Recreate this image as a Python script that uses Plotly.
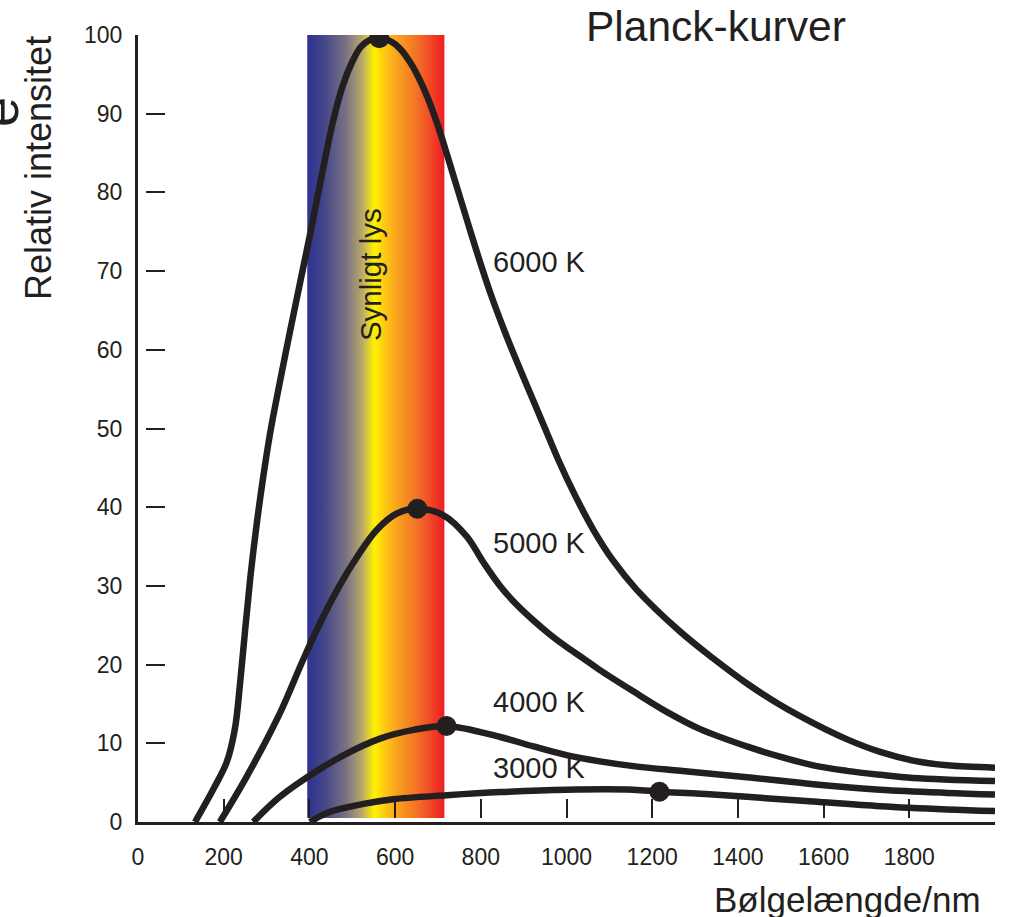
import plotly.graph_objects as go

# ---------------- data ----------------
wl_6000 = [133, 175, 207, 226, 238, 250, 262, 275, 290, 308, 330, 355, 380, 405, 430, 455,
           478, 500, 520, 542, 563, 590, 611, 639, 674, 701, 724, 748, 771, 798, 825, 856,
           888, 919, 950, 981, 1020, 1063, 1109, 1164, 1265, 1342, 1421, 1498, 1575, 1655,
           1732, 1809, 1888, 2000]
I_6000 = [0, 4.1, 7.6, 11.8, 17.5, 24.4, 31.0, 37.0, 43.0, 49.3, 55.6, 62.4, 69.0, 75.6,
          82.5, 89.0, 93.6, 96.6, 98.5, 99.4, 99.6, 99.2, 98.3, 96.2, 92.3, 88.3, 84.3,
          80.0, 75.9, 71.2, 66.8, 62.3, 58.0, 54.0, 50.0, 46.0, 41.5, 37.1, 33.2, 29.5,
          24.2, 20.8, 17.6, 14.9, 12.6, 10.5, 8.9, 7.8, 7.2, 6.9]

wl_5000 = [191, 254, 331, 382, 417, 456, 502, 557, 604, 652, 712, 767, 806, 845, 884, 923,
           962, 1000, 1039, 1078, 1156, 1234, 1312, 1421, 1498, 1576, 1654, 1732, 1809, 2000]
I_5000 = [0, 5.8, 13.8, 20.2, 24.4, 28.6, 32.9, 37.1, 39.2, 39.8, 39.0, 36.3, 33.0, 30.0,
          27.6, 25.6, 23.8, 22.25, 20.8, 19.3, 16.6, 14.0, 11.8, 9.6, 8.3, 7.2, 6.5, 6.0,
          5.6, 5.2]

wl_4000 = [269, 331, 409, 487, 565, 643, 720, 845, 923, 1000, 1078, 1156, 1265, 1421,
           1576, 1732, 1888, 2000]
I_4000 = [0, 3.2, 6.2, 8.7, 10.6, 11.7, 12.2, 10.8, 9.6, 8.5, 7.7, 7.1, 6.5, 5.7, 4.8,
          4.1, 3.7, 3.5]

wl_3000 = [401, 448, 526, 595, 721, 845, 1000, 1156, 1217, 1312, 1421, 1576, 1732, 1888, 2000]
I_3000 = [0, 1.3, 2.3, 2.9, 3.4, 3.8, 4.1, 4.1, 3.85, 3.6, 3.2, 2.6, 2.0, 1.6, 1.4]

peak_wl = [563, 652, 720, 1217]
peak_I = [99.6, 39.8, 12.2, 3.85]

curve_labels = ["6000 K", "5000 K", "4000 K", "3000 K"]
label_wl = [824, 824, 824, 824]
label_I = [71.2, 35.5, 15.3, 6.9]

visible_band = [395, 715]          # nm
visible_I = [0.5, 100.3]

x_ticks = [0, 200, 400, 600, 800, 1000, 1200, 1400, 1600, 1800]
x_minor = [200, 400, 600, 800, 1000, 1200, 1400, 1600, 1800]
y_ticks = [0, 10, 20, 30, 40, 50, 60, 70, 80, 90, 100]

INK = "#231F20"
FONT = "Liberation Sans, Arial, Helvetica, sans-serif"

fig = go.Figure()

# visible-light band with horizontal gradient
fig.add_trace(go.Scatter(
    x=[visible_band[0], visible_band[1], visible_band[1], visible_band[0], visible_band[0]],
    y=[visible_I[0], visible_I[0], visible_I[1], visible_I[1], visible_I[0]],
    mode="lines", line=dict(width=0), fill="toself",
    fillgradient=dict(type="horizontal", colorscale=[
        [0.0, "#2E3192"], [0.12, "#434688"], [0.28, "#787184"], [0.40, "#B9A86B"],
        [0.49, "#FFF200"], [0.56, "#FDCB13"], [0.66, "#F9A01F"], [0.82, "#F26A26"],
        [1.0, "#ED1C24"]]),
    hoverinfo="skip", showlegend=False))

for wl, I in [(wl_6000, I_6000), (wl_5000, I_5000), (wl_4000, I_4000), (wl_3000, I_3000)]:
    fig.add_trace(go.Scatter(x=wl, y=I, mode="lines",
                             line=dict(color=INK, width=6.5, shape="spline", smoothing=1.0),
                             hoverinfo="skip", showlegend=False))

fig.add_trace(go.Scatter(x=peak_wl, y=peak_I, mode="markers",
                         marker=dict(color=INK, size=20), hoverinfo="skip", showlegend=False))

# helper trace for the tick-only overlay axes
fig.add_trace(go.Scatter(x=[1000], y=[50], xaxis="x2", yaxis="y2", mode="markers",
                         marker=dict(opacity=0), hoverinfo="skip", showlegend=False))

annotations = []
for t, x, y in zip(curve_labels, label_wl, label_I):
    annotations.append(dict(text=t, x=x, y=y, xref="x", yref="y", xanchor="left",
                            yanchor="middle", showarrow=False,
                            font=dict(size=29, color=INK, family=FONT)))
annotations += [
    dict(text="Synligt lys", x=541, y=69.6, xref="x", yref="y", textangle=-90,
         showarrow=False, font=dict(size=29.5, color=INK, family=FONT)),
    dict(text="Planck-kurver", x=0.6744, y=1.0102, xref="paper", yref="paper",
         xanchor="center", yanchor="middle", showarrow=False,
         font=dict(size=42.5, color=INK, family=FONT)),
    dict(text="Relativ intensitet", x=-0.1167, y=0.831, xref="paper", yref="paper",
         textangle=-90, xanchor="center", yanchor="middle", showarrow=False,
         font=dict(size=36, color=INK, family=FONT)),
    dict(text="Bølgelængde/nm", x=0.986, y=-0.0991, xref="paper", yref="paper",
         xanchor="right", yanchor="middle", showarrow=False,
         font=dict(size=35, color=INK, family=FONT)),
    dict(text="e", x=-0.1622, y=0.902, xref="paper", yref="paper", textangle=-90,
         xanchor="center", yanchor="middle", showarrow=False,
         font=dict(size=54, color=INK, family=FONT)),
]

fig.update_layout(
    width=1015, height=917, autosize=False,
    margin=dict(l=138, r=20, t=35, b=95, pad=0),
    paper_bgcolor="white", plot_bgcolor="white",
    font=dict(family=FONT, color=INK),
    showlegend=False,
    annotations=annotations,
    xaxis=dict(range=[0, 2000], showline=True, linecolor=INK, linewidth=3,
               ticks="", tickvals=x_ticks, tickfont=dict(size=23, color=INK),
               ticklabelstandoff=12, showgrid=False, zeroline=False),
    yaxis=dict(range=[0, 100], showline=True, linecolor=INK, linewidth=3,
               ticks="", tickvals=y_ticks, tickfont=dict(size=23, color=INK),
               ticklabelstandoff=8, showgrid=False, zeroline=False),
    xaxis2=dict(range=[0, 2000], overlaying="x", anchor="free", position=0.0051,
                side="bottom", ticks="inside", ticklen=19, tickwidth=2, tickcolor=INK,
                tickvals=x_minor, showticklabels=False, showline=False, showgrid=False,
                zeroline=False),
    yaxis2=dict(range=[0, 100], overlaying="y", anchor="free", position=0.0082,
                side="left", ticks="inside", ticklen=19, tickwidth=2, tickcolor=INK,
                tickvals=y_ticks, showticklabels=False, showline=False, showgrid=False,
                zeroline=False),
)

fig.write_html("out.html")
